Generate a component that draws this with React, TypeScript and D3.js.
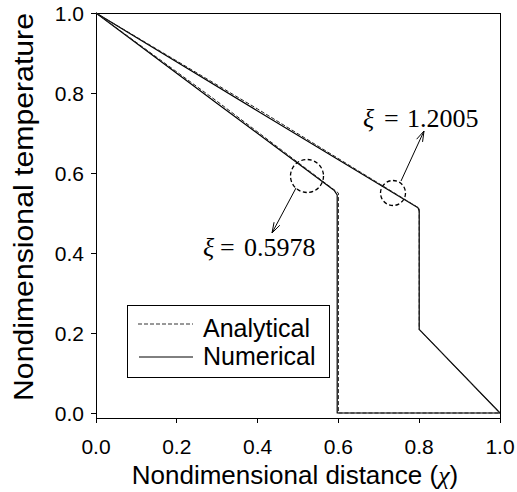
import React from "react";
import * as d3 from "d3";

const xTicks = [0, 0.2, 0.4, 0.6, 0.8, 1.0];
const yTicks = [0, 0.2, 0.4, 0.6, 0.8, 1.0];

// Case xi = 0.5978
const analytical1X = [0, 0.3, 0.6, 0.6, 1.0];
const analytical1Y = [1, 0.779, 0.55, 0, 0];
const numerical1X = [0, 0.3, 0.59, 0.597, 0.597, 1.0];
const numerical1Y = [1, 0.774, 0.556, 0.545, 0, 0];

// Case xi = 1.2005
const analytical2X = [0, 0.4, 0.8, 0.8, 1.0];
const analytical2Y = [1, 0.76, 0.512, 0.209, 0];
const numerical2X = [0, 0.4, 0.797, 0.8, 0.8, 1.0];
const numerical2Y = [1, 0.755, 0.513, 0.505, 0.209, 0];

const legendLabels = ["Analytical", "Numerical"];

const W = 517;
const H = 492;
const left = 96;
const right = 500;
const top = 13;
const zeroY = 413;
const bottomAxisY = 418;

const SANS = "'Liberation Sans', Arial, sans-serif";
const SERIF = "'Liberation Serif', 'Times New Roman', serif";

export default function App() {
  const x = d3.scaleLinear().domain([0, 1]).range([left, right]);
  const y = d3.scaleLinear().domain([0, 1]).range([zeroY, top]);
  const line = d3
    .line<[number, number]>()
    .x((d) => x(d[0]))
    .y((d) => y(d[1]));
  const pts = (xs: number[], ys: number[]) =>
    xs.map((v, i) => [v, ys[i]] as [number, number]);

  const arrow = (x1: number, y1: number, x2: number, y2: number) => {
    const ang = Math.atan2(y2 - y1, x2 - x1);
    const len = 11;
    const spread = 0.3;
    const a1 = ang + Math.PI - spread;
    const a2 = ang + Math.PI + spread;
    return (
      <g stroke="#000" strokeWidth={1} fill="none">
        <line x1={x1} y1={y1} x2={x2} y2={y2} />
        <line x1={x2} y1={y2} x2={x2 + len * Math.cos(a1)} y2={y2 + len * Math.sin(a1)} />
        <line x1={x2} y1={y2} x2={x2 + len * Math.cos(a2)} y2={y2 + len * Math.sin(a2)} />
      </g>
    );
  };

  return (
    <svg width={W} height={H} style={{ position: "absolute", left: 0, top: 0, background: "#fff" }}>
      <rect x={0} y={0} width={W} height={H} fill="#fff" />
      {/* frame */}
      <g stroke="#000" strokeWidth={1} fill="none" shapeRendering="crispEdges">
        <line x1={left} y1={top} x2={right} y2={top} />
        <line x1={right} y1={top} x2={right} y2={bottomAxisY} />
        <line x1={left} y1={top} x2={left} y2={bottomAxisY} />
        <line x1={left} y1={bottomAxisY} x2={right} y2={bottomAxisY} />
        {xTicks.map((t) => (
          <line key={"xt" + t} x1={x(t)} y1={bottomAxisY} x2={x(t)} y2={bottomAxisY + 5} />
        ))}
        {yTicks.map((t) => (
          <line key={"yt" + t} x1={left - 5} y1={y(t)} x2={left} y2={y(t)} />
        ))}
      </g>
      {xTicks.map((t) => (
        <text key={"xl" + t} x={x(t)} y={454} textAnchor="middle" fontFamily={SANS} fontSize={21}>
          {t.toFixed(1)}
        </text>
      ))}
      {yTicks.map((t) => (
        <text key={"yl" + t} x={84} y={y(t)} dy="0.36em" textAnchor="end" fontFamily={SANS} fontSize={21}>
          {t.toFixed(1)}
        </text>
      ))}
      <text x={295} y={484} textAnchor="middle" fontFamily={SANS} fontSize={26}>
        Nondimensional distance (
        <tspan fontFamily={SERIF} fontStyle="italic">χ</tspan>)
      </text>
      <text
        transform="translate(33,207) rotate(-90)"
        textAnchor="middle"
        fontFamily={SANS}
        fontSize={27}
        textLength={388}
        lengthAdjust="spacingAndGlyphs"
      >
        Nondimensional temperature
      </text>

      {/* data */}
      <g fill="none" strokeLinejoin="round">
        <path d={line(pts(numerical1X, numerical1Y)) || ""} stroke="#000" strokeWidth={1.2} />
        <path d={line(pts(numerical2X, numerical2Y)) || ""} stroke="#000" strokeWidth={1.2} />
        <path d={line(pts(analytical1X, analytical1Y)) || ""} stroke="#222" strokeWidth={1} strokeDasharray="4,2" />
        <path d={line(pts(analytical2X, analytical2Y)) || ""} stroke="#222" strokeWidth={1} strokeDasharray="4,2" />
      </g>

      {/* annotations */}
      <circle cx={307} cy={176} r={16.5} fill="none" stroke="#000" strokeWidth={1.3} strokeDasharray="4,2.5" />
      <circle cx={393} cy={193} r={12.5} fill="none" stroke="#000" strokeWidth={1.3} strokeDasharray="4,2.5" />
      {arrow(296, 188, 272, 233)}
      {arrow(401, 181, 424, 131)}
      <g fontFamily={SERIF} fontSize={26}>
        <text x={203} y={256} fontStyle="italic">ξ</text>
        <text x={220} y={256}>=</text>
        <text x={244} y={256}>0.5978</text>
        <text x={363} y={127} fontStyle="italic">ξ</text>
        <text x={384} y={127}>=</text>
        <text x={407} y={127}>1.2005</text>
      </g>

      {/* legend */}
      <rect x={127.5} y={305.5} width={202} height={72} fill="#fff" stroke="#000" strokeWidth={1} />
      <line x1={138} y1={324} x2={193} y2={324} stroke="#333" strokeWidth={1} strokeDasharray="4,2" />
      <line x1={139} y1={357} x2={193} y2={357} stroke="#000" strokeWidth={1} />
      <text x={203} y={337} fontFamily={SANS} fontSize={25}>{legendLabels[0]}</text>
      <text x={203} y={365} fontFamily={SANS} fontSize={25}>{legendLabels[1]}</text>
    </svg>
  );
}
